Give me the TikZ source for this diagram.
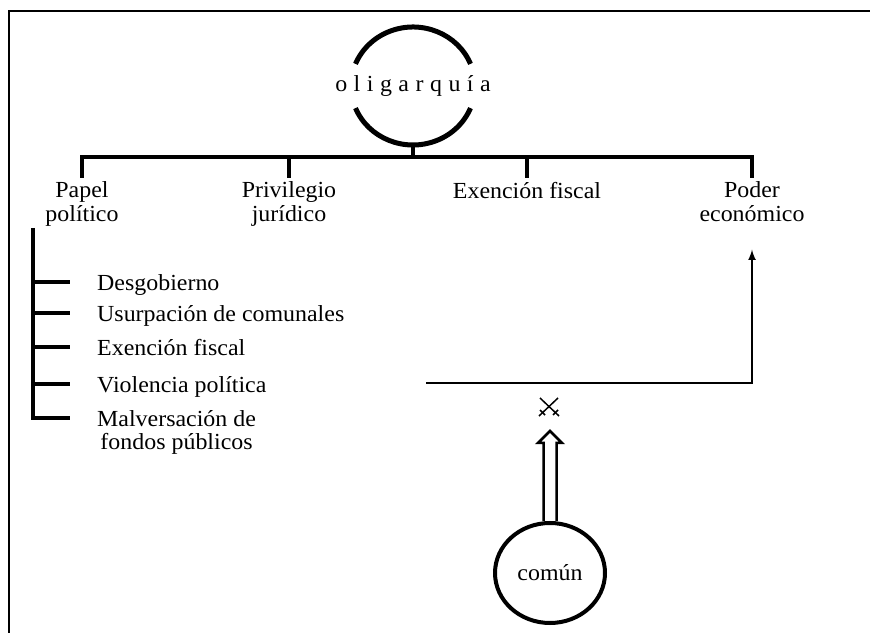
\documentclass[tikz,border=0pt]{standalone}
\usepackage{fontspec}
\setmainfont{Liberation Serif}[FakeStretch=1.04]
\usepackage{tikz}
\usetikzlibrary{arrows,shapes}

\begin{document}
\begin{tikzpicture}[>=latex]
      \tikzstyle{every node}=[font=\fontsize{23bp}{23.5bp}\selectfont]
      \tikzstyle{tree}=[line width=3.5bp]
      \tikzstyle{ring}=[line width=5bp]
      \tikzstyle{link}=[line width=2.5bp]
      \tikzstyle{heading}=[align=center,inner sep=0pt,outer sep=4bp,anchor=north]
      \tikzstyle{entry}=[align=center,inner sep=0pt,anchor=north west]
      %%
  \useasboundingbox (0bp,0bp) rectangle (870bp,633bp);
  \draw [line width=1.5bp] (9bp,0bp) -- (9bp,622bp) -- (870bp,622bp);
  \node (olig) at (413bp,547bp) [ellipse,draw=none,minimum width=124bp,minimum height=118bp] {{\spaceskip=6.5bp o l i g a r q u í a}};
  \draw [ring] ([shift={(22:62bp and 59bp)}]olig.center) arc [start angle=22,end angle=158,x radius=62bp,y radius=59bp];
  \draw [ring] ([shift={(202:62bp and 59bp)}]olig.center) arc [start angle=202,end angle=338,x radius=62bp,y radius=59bp];
  \node (papel) at (82bp,455bp) [heading] {Papel\\político};
  \node (priv) at (289bp,455bp) [heading] {Privilegio\\jurídico};
  \node (exen) at (527bp,455bp) [heading] {Exención fiscal};
  \node (poder) at (752bp,455bp) [heading] {Poder\\económico};
  \draw [tree] (olig.south) -- ++(0,-12bp);
  \draw [tree] (papel.north) -- ++(0,21bp) -| (poder.north);
  \draw [tree] (priv.north) -- ++(0,21bp);
  \draw [tree] (exen.north) -- ++(0,21bp);
  %
  \coordinate (spine) at (33bp,405bp);
  \coordinate (t1) at (33bp,351bp);
  \coordinate (t2) at (33bp,320bp);
  \coordinate (t3) at (33bp,286bp);
  \coordinate (t4) at (33bp,249bp);
  \coordinate (t5) at (33bp,215bp);
  \draw [tree] (spine) -- (t5) -- ++(37bp,0);
  \foreach \t in {t1,t2,t3,t4}
    \draw [tree] (\t) -- ++(37bp,0);
  \node (desg) at ([shift={(64bp,8bp)}]t1) [entry] {Desgobierno};
  \node (usur) at ([shift={(64bp,8bp)}]t2) [entry] {Usurpación de comunales};
  \node (exen2) at ([shift={(64bp,8bp)}]t3) [entry] {Exención fiscal};
  \node (viol) at ([shift={(64bp,8bp)}]t4) [entry] {Violencia política};
  \node (malv) at ([shift={(64bp,8bp)}]t5) [entry] {Malversación de\\fondos públicos};
  %
  \coordinate (vstart) at (426bp,250bp);
  \draw [link,->,shorten >=24bp] (vstart) -| (poder.south);
  \coordinate (swords) at (549bp,226bp);
  \begin{scope}[shift={(swords)},line width=1.5bp]
    \draw (-10bp,-9bp) -- (9bp,9bp);
    \draw (10bp,-9bp) -- (-9bp,9bp);
    \draw (-9bp,-3bp) -- (-4bp,-8bp);
    \draw (9bp,-3bp) -- (4bp,-8bp);
  \end{scope}
  \node (comun) at (550bp,60bp) [ellipse,draw,line width=4bp,minimum width=110bp,minimum height=100bp] {común};
  \draw [link] ([xshift=-6.5bp]comun.north) -- ++(0,78bp) -- ++(-5.5bp,0) -- ++(12bp,12bp) -- ++(12bp,-12bp) -- ++(-5.5bp,0) -- ([xshift=6.5bp]comun.north);
%

    \end{tikzpicture}
\end{document}
